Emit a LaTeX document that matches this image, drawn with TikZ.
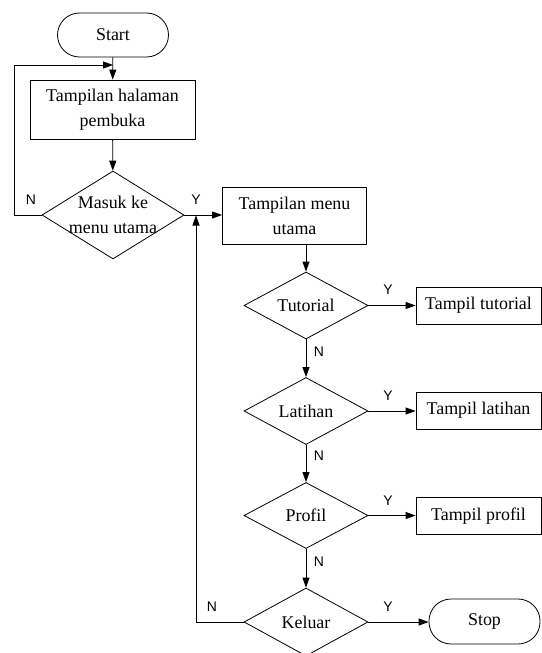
\documentclass[tikz,border=0pt]{standalone}
\usepackage{fontspec}
\setmainfont{Liberation Serif}
\newfontfamily\lblfont{Liberation Sans}
\usetikzlibrary{shapes.geometric,arrows.meta}
\tikzset{
  base/.style={draw=black, line width=0.8bp, inner sep=0pt, align=center,
    font=\fontsize{18}{25}\selectfont},
  procbox/.style={base, rectangle},
  termbox/.style={base, rectangle, rounded corners=22bp},
  decbox/.style={draw=black, line width=0.8bp, diamond, inner sep=0pt},
  dectext/.style={align=center, font=\fontsize{18}{25}\selectfont, inner sep=0pt},
  conn/.style={draw=black, line width=0.8bp, -{Triangle[length=10bp,width=7bp]}},
  plain/.style={draw=black, line width=0.8bp},
  yn/.style={font=\lblfont\fontsize{14}{14}\selectfont, inner sep=0pt}
}
\begin{document}
\begin{tikzpicture}[x=1bp,y=-1bp]
\useasboundingbox (0,0) rectangle (542,653);

\node[termbox, minimum width=111bp, minimum height=44bp] (start) at (113,35) {Start};
\node[procbox, minimum width=165bp, minimum height=59bp] (b1) at (112.5,109.5) {Tampilan halaman\\pembuka};
\node[decbox, minimum width=142bp, minimum height=88bp,
  label={[dectext]center:Masuk ke\\menu utama}] (d1) at (113,215) {};
\node[procbox, minimum width=144bp, minimum height=57bp] (b2) at (294.5,215.5) {Tampilan menu\\utama};

\node[decbox, minimum width=124bp, minimum height=67bp,
  label={[dectext]center:Tutorial}] (tut) at (306,305.5) {};
\node[procbox, minimum width=125bp, minimum height=37bp] (tt) at (478.5,305.5) {Tampil tutorial};

\node[decbox, minimum width=124bp, minimum height=67bp,
  label={[dectext]center:Latihan}] (lat) at (306,411) {};
\node[procbox, minimum width=125bp, minimum height=37bp] (tl) at (478.5,410.5) {Tampil latihan};

\node[decbox, minimum width=124bp, minimum height=66bp,
  label={[dectext]center:Profil}] (prof) at (306,515.5) {};
\node[procbox, minimum width=125bp, minimum height=37bp] (tp) at (478.5,516) {Tampil profil};

\node[decbox, minimum width=124bp, minimum height=68bp,
  label={[dectext]center:Keluar}] (kel) at (306,622) {};
\node[termbox, minimum width=111bp, minimum height=45bp] (stop) at (484.5,621.5) {Stop};

\coordinate (loopin) at (113,65);
\coordinate (ret) at (196,215.5);

\draw[conn] (start) -- (b1);
\draw[conn] (b1) -- (d1);
\draw[conn] (d1.west) -- (14,215) -- (14,65) -- (loopin);
\draw[conn] (d1.east) -- (b2.west |- d1.east);
\draw[conn] (b2.south -| tut.north) -- (tut.north);
\draw[conn] (tut.east) -- (tt.west |- tut.east);
\draw[conn] (tut.south) -- (lat.north);
\draw[conn] (lat.east) -- (tl.west |- lat.east);
\draw[conn] (lat.south) -- (prof.north);
\draw[conn] (prof.east) -- (tp.west |- prof.east);
\draw[conn] (prof.south) -- (kel.north);
\draw[conn] (kel.east) -- (stop.west |- kel.east);
\draw[conn] (kel.west) -- (196,622) -- (ret);

\node[yn] (n1) at (31,200) {N};
\node[yn] (y1) at (196,200) {Y};
\node[yn] (y2) at (388,290) {Y};
\node[yn] (n2) at (319,352) {N};
\node[yn] (y3) at (388,396) {Y};
\node[yn] (n3) at (319,456) {N};
\node[yn] (y4) at (388,501) {Y};
\node[yn] (n4) at (319,562) {N};
\node[yn] (n5) at (212,607) {N};
\node[yn] (y5) at (388,607) {Y};
\end{tikzpicture}
\end{document}
